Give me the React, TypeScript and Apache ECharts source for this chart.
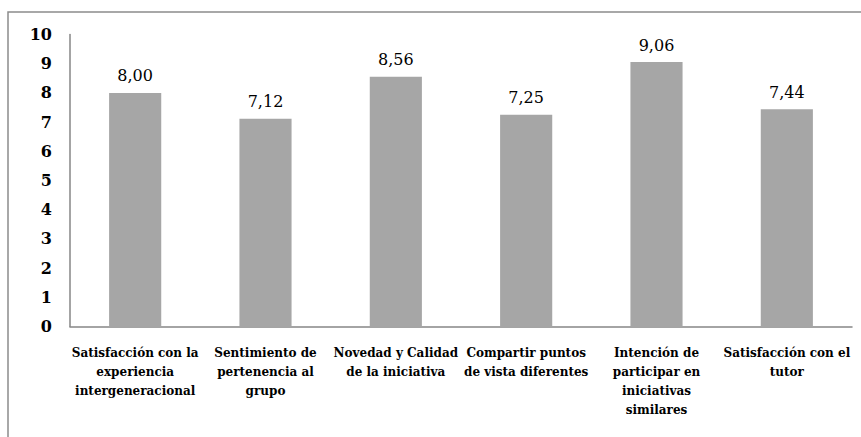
import React, { useEffect, useRef } from "react";
import * as echarts from "echarts";

const categories = [
  "Satisfacción con la\nexperiencia\nintergeneracional",
  "Sentimiento de\npertenencia al\ngrupo",
  "Novedad y Calidad\nde la iniciativa",
  "Compartir puntos\nde vista diferentes",
  "Intención de\nparticipar en\niniciativas\nsimilares",
  "Satisfacción con el\ntutor",
];
const values = [8.0, 7.12, 8.56, 7.25, 9.06, 7.44];
const yTicks = [0, 1, 2, 3, 4, 5, 6, 7, 8, 9, 10];

const FONT = "DejaVu Serif";

export default function App() {
  const ref = useRef<HTMLDivElement>(null);
  useEffect(() => {
    if (!ref.current) return;
    const chart = echarts.init(ref.current, undefined, { renderer: "svg" });
    chart.setOption({
      animation: false,
      backgroundColor: "#ffffff",
      graphic: [
        {
          type: "rect",
          shape: { x: 8, y: 12, width: 900, height: 500 },
          style: { fill: "none", stroke: "#8c8c8c", lineWidth: 1.5 },
          silent: true,
        },
      ],
      grid: { left: 70, right: 9, top: 34.6, bottom: 110.5, containLabel: false },
      xAxis: {
        type: "category",
        data: categories,
        axisLine: { show: true, lineStyle: { color: "#868686", width: 1.5 } },
        axisTick: { show: false },
        axisLabel: {
          interval: 0,
          margin: 17,
          color: "#000",
          fontFamily: FONT,
          fontWeight: "bold",
          fontSize: 12,
          lineHeight: 19,
        },
      },
      yAxis: {
        type: "value",
        min: yTicks[0],
        max: yTicks[yTicks.length - 1],
        interval: 1,
        splitLine: { show: false },
        axisLine: { show: true, lineStyle: { color: "#868686", width: 1.5 } },
        axisTick: { show: false },
        axisLabel: {
          margin: 18,
          color: "#000",
          fontFamily: FONT,
          fontWeight: "bold",
          fontSize: 16,
        },
      },
      series: [
        {
          type: "bar",
          data: values,
          barWidth: "40%",
          itemStyle: { color: "#a6a6a6" },
          label: {
            show: true,
            position: "top",
            distance: 9,
            color: "#000",
            fontFamily: FONT,
            fontSize: 16,
            formatter: (p: any) => Number(p.value).toFixed(2).replace(".", ","),
          },
        },
      ],
    });
    return () => chart.dispose();
  }, []);
  return (
    <div
      ref={ref}
      style={{ position: "absolute", left: 0, top: 0, width: 861, height: 437 }}
    />
  );
}
